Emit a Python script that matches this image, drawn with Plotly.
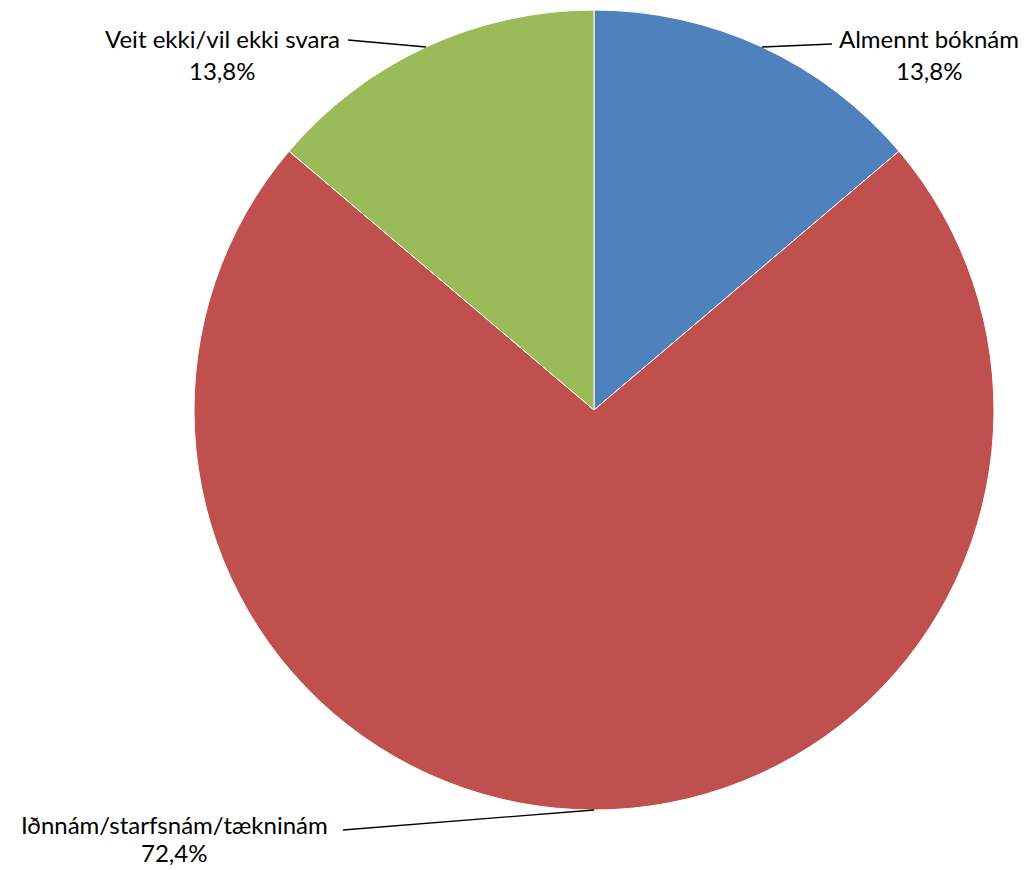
import math
import plotly.graph_objects as go

labels = ["Almennt bóknám", "Iðnnám/starfsnám/tækninám", "Veit ekki/vil ekki svara"]
values = [13.8, 72.4, 13.8]
value_text = ["13,8%", "72,4%", "13,8%"]
colors = ["#4F81BD", "#C0504D", "#9BBB59"]

OFF = 8  # default page body margin
W, H = 1029 - OFF, 870 - OFF
cx, cy, r = 594 - OFF, 410 - OFF, 400

fig = go.Figure(go.Pie(
    labels=labels, values=values, sort=False, direction="clockwise", rotation=0,
    marker=dict(colors=colors, line=dict(color="white", width=1)),
    textinfo="none", hoverinfo="label+percent", showlegend=False,
    domain=dict(x=[(cx - r) / W, (cx + r) / W], y=[(H - cy - r) / H, (H - cy + r) / H]),
))

# label positions (layout, page pixels): text x, line1 y, line2 y, leader end x, y
label_pos = [(929, 38, 70, 832, 44), (174, 824, 852, 343, 830), (222, 38, 70, 348, 40)]
total = sum(values)
cum = 0
shapes, annotations = [], []
for i, v in enumerate(values):
    mid = (cum + v / 2) / total * 2 * math.pi
    cum += v
    px = cx + r * math.sin(mid)
    py = cy - r * math.cos(mid)
    tx, ty, ty2, ex, ey = [c - OFF for c in label_pos[i]]
    shapes.append(dict(type="line", xref="paper", yref="paper",
                       x0=px / W, y0=1 - py / H, x1=ex / W, y1=1 - ey / H,
                       line=dict(color="black", width=1.3)))
    annotations.append(dict(xref="paper", yref="paper", x=tx / W, y=1 - ty / H,
                            text=labels[i], showarrow=False, xanchor="center", yanchor="middle",
                            borderpad=0,
                            font=dict(size=24, color="black", family="Lato")))
    annotations.append(dict(xref="paper", yref="paper", x=tx / W, y=1 - ty2 / H,
                            text=value_text[i], showarrow=False, xanchor="center", yanchor="middle",
                            borderpad=0,
                            font=dict(size=24, color="black", family="Lato")))

fig.update_layout(width=W, height=H, margin=dict(l=0, r=0, t=0, b=0),
                  paper_bgcolor="white", plot_bgcolor="white",
                  shapes=shapes, annotations=annotations)
fig.write_html("out.html")
